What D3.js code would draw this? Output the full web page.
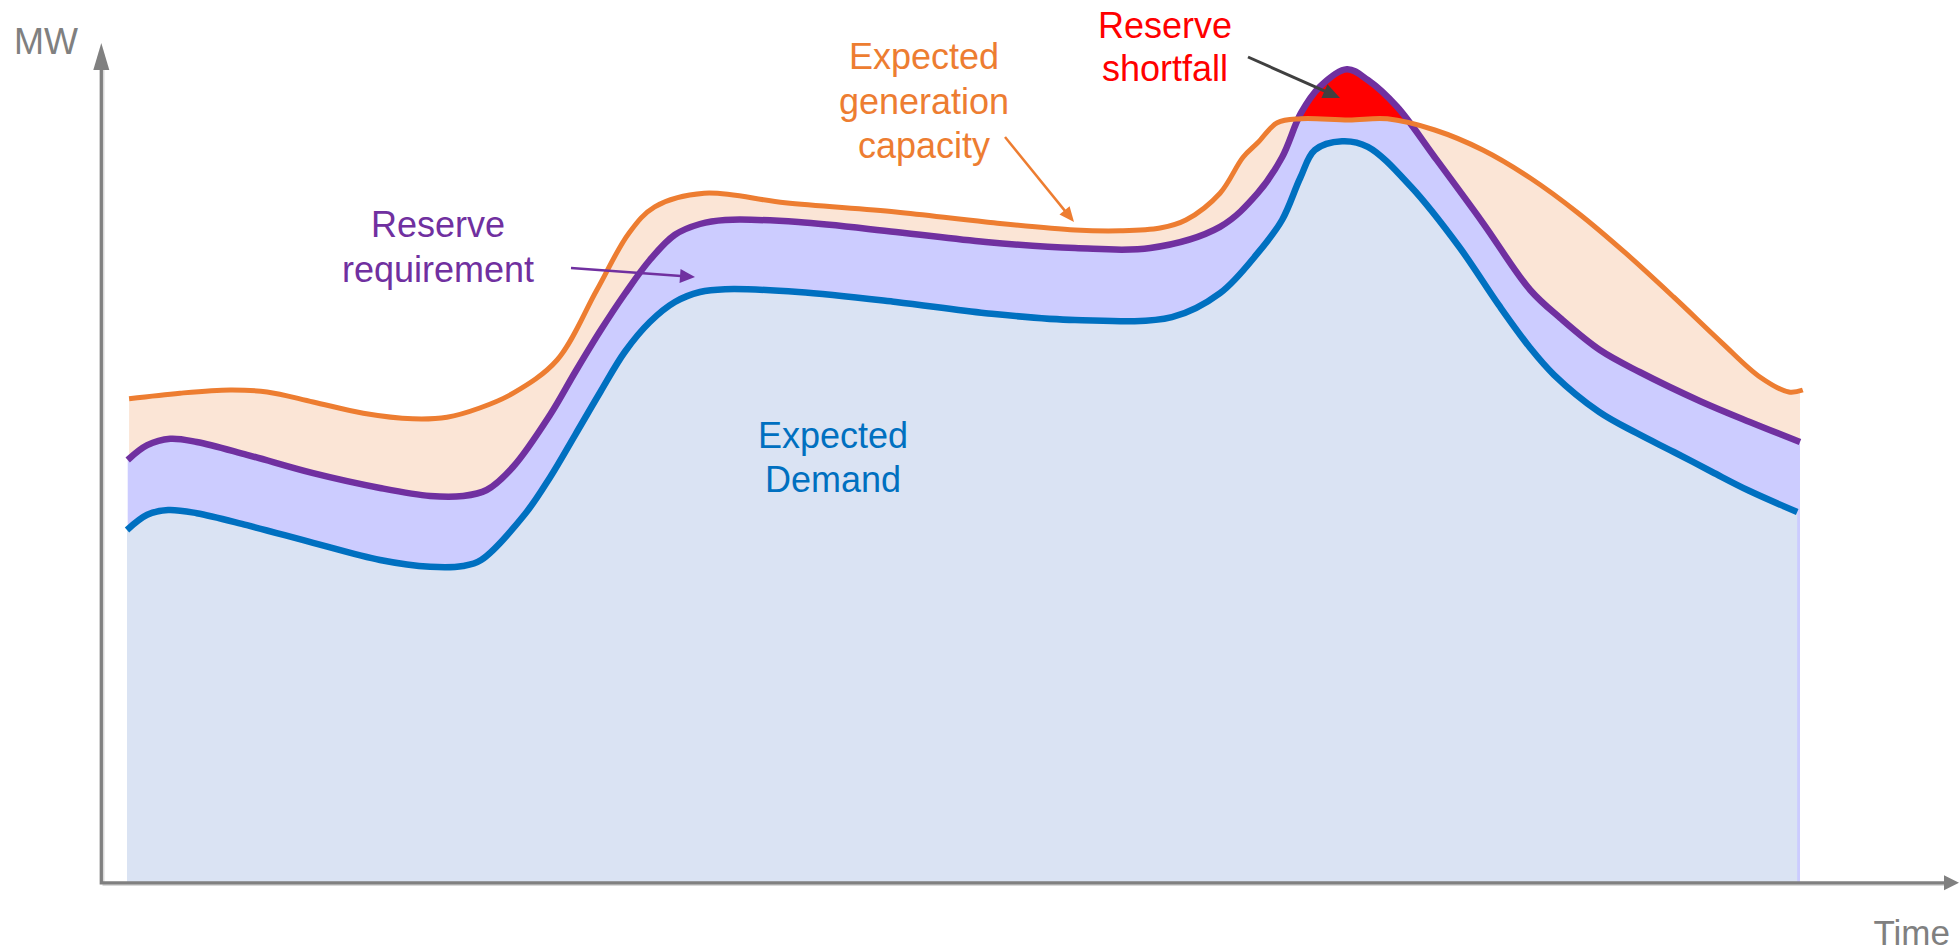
<!DOCTYPE html>
<html>
<head>
<meta charset="utf-8">
<script src="https://cdn.jsdelivr.net/npm/d3@7"></script>
<style>
  html, body { margin: 0; padding: 0; background: #ffffff; }
  svg { display: block; font-family: "Liberation Sans", Arial, sans-serif; }
</style>
</head>
<body>
<svg id="chart" width="1959" height="952"></svg>
<script>
// Hour of day (0–24) and MW (relative units) for each profile
const capacityHours = [0.03, 0.76, 1.48, 2.01, 2.67, 3.39, 4.10, 4.59, 5.06, 5.54, 6.17, 6.74, 7.20, 7.57, 8.28, 9.44,
  11.03, 12.32, 13.60, 14.25, 14.82, 15.19, 15.68, 16.01, 16.22, 16.50, 16.84, 17.53, 18.08, 18.76, 19.45, 20.13,
  20.82, 21.50, 22.19, 22.88, 23.43, 23.84, 24.04];
const capacityMW = [60.4, 61.1, 61.5, 61.25, 60.0, 58.6, 57.9, 58.1, 59.25, 61.1, 65.25, 74.0, 81.1, 84.4, 86.1, 84.9,
  83.75, 82.5, 81.5, 81.4, 81.75, 82.75, 86.1, 90.6, 92.4, 94.9, 95.4, 95.25, 95.4, 94.0, 91.5, 88.0,
  83.6, 78.6, 73.1, 67.4, 63.1, 61.25, 61.5];

const reserveHours = [0.01, 0.29, 0.62, 1.00, 1.72, 2.67, 3.63, 4.35, 4.82, 5.16, 5.54, 6.07, 6.43, 6.79, 7.14, 7.50,
  7.86, 8.22, 8.58, 9.63, 11.03, 12.32, 13.60, 14.68, 15.68, 16.22, 16.57, 16.84, 17.11, 17.50, 17.80, 18.22,
  18.76, 19.45, 20.13, 20.56, 21.13, 21.70, 22.57, 23.28, 24.00];
const reserveMW = [52.75, 54.6, 55.4, 55.0, 53.4, 51.1, 49.25, 48.25, 48.25, 49.0, 51.9, 58.4, 63.75, 68.9, 73.5, 77.75,
  80.9, 82.25, 82.75, 82.5, 81.25, 80.0, 79.25, 79.25, 81.9, 86.1, 90.6, 96.1, 99.4, 101.6, 100.25, 96.9,
  90.6, 82.4, 74.0, 70.5, 66.5, 63.75, 60.1, 57.5, 55.0];

const demandHours = [0.00, 0.29, 0.59, 1.00, 1.72, 2.67, 3.63, 4.35, 4.82, 5.08, 5.71, 6.07, 6.43, 6.79, 7.14, 7.50,
  7.86, 8.22, 8.58, 9.63, 11.03, 12.32, 13.60, 14.99, 15.68, 16.22, 16.57, 16.83, 17.04, 17.43, 17.80, 18.42,
  19.11, 19.68, 20.13, 20.47, 21.12, 21.66, 22.19, 22.74, 23.27, 23.96];
const demandMW = [44.0, 45.9, 46.5, 46.1, 44.6, 42.4, 40.25, 39.4, 39.5, 40.25, 46.0, 50.6, 55.9, 61.25, 66.25, 70.0,
  72.5, 73.75, 74.1, 73.75, 72.5, 71.1, 70.25, 70.6, 73.6, 78.6, 82.75, 88.0, 91.5, 92.6, 91.9, 86.9,
  79.4, 72.1, 66.75, 63.4, 58.75, 56.1, 53.75, 51.25, 48.9, 46.25];

const axisLabels = { y: "MW", x: "Time" };
const capacityLabel = ["Expected", "generation", "capacity"];
const reserveLabel = ["Reserve", "requirement"];
const demandLabel = ["Expected", "Demand"];
const shortfallLabel = ["Reserve", "shortfall"];

const COLORS = {
  capacity: "#ED7D31", capacityFill: "#FBE5D6",
  reserve: "#7030A0", reserveFill: "#CCCCFF",
  demand: "#0070C0", demandFill: "#DAE3F3",
  shortfall: "#FF0000", axis: "#808080", pointer: "#404040"
};

const svg = d3.select("#chart");
const W = 1959, H = 952;

const x = d3.scaleLinear().domain([0, 24]).range([127, 1800]);
const y = d3.scaleLinear().domain([0, 100]).range([882, 82]);

const zip = (a, b) => a.map((v, i) => [v, b[i]]);
const capacity = zip(capacityHours, capacityMW);
const reserve = zip(reserveHours, reserveMW);
const demand = zip(demandHours, demandMW);

const curve = d3.curveCatmullRom.alpha(0.5);
const areaGen = d3.area().x(d => x(d[0])).y0(y(0)).y1(d => y(d[1])).curve(curve);
const lineGen = d3.line().x(d => x(d[0])).y(d => y(d[1])).curve(curve);

const defs = svg.append("defs");
// the capacity curve split the canvas into a region above it and one below it
const capPath = lineGen(capacity);
const capFirst = y(capacity[0][1]), capLast = y(capacity[capacity.length - 1][1]);
const capEdge = `M0,${capFirst} L${capPath.slice(1)} L${W},${capLast}`;
defs.append("clipPath").attr("id", "belowCapacity")
  .append("path").attr("d", `${capEdge} L${W},${H} L0,${H} Z`);
defs.append("clipPath").attr("id", "aboveCapacity")
  .append("path").attr("d", `${capEdge} L${W},0 L0,0 Z`);
// horizontal extent of the reserve band
const rx0 = x(reserveHours[0]), rx1 = x(reserveHours[reserveHours.length - 1]);
defs.append("clipPath").attr("id", "reserveSpan")
  .append("rect").attr("x", rx0).attr("y", 0).attr("width", rx1 - rx0).attr("height", H);

// filled bands: capacity margin, shortfall (reserve above capacity), reserve, demand
svg.append("path").attr("d", areaGen(capacity)).attr("fill", COLORS.capacityFill)
  .attr("clip-path", "url(#reserveSpan)");
svg.append("path").attr("d", areaGen(reserve)).attr("fill", COLORS.shortfall)
  .attr("clip-path", "url(#aboveCapacity)");
svg.append("path").attr("d", areaGen(reserve)).attr("fill", COLORS.reserveFill)
  .attr("clip-path", "url(#belowCapacity)");
svg.append("path").attr("d", areaGen(demand)).attr("fill", COLORS.demandFill);

// axes with a soft shadow
const axisG = svg.append("g");
axisG.append("path").attr("d", "M103.5,62 V885 H1946")
  .attr("fill", "none").attr("stroke", "#d9d9d9").attr("stroke-width", 2);
axisG.append("path").attr("d", "M101.3,68 V882.8 H1946")
  .attr("fill", "none").attr("stroke", COLORS.axis).attr("stroke-width", 3.3);
axisG.append("path").attr("d", "M101.3,43 L109.3,70 L93.3,70 Z").attr("fill", COLORS.axis);
axisG.append("path").attr("d", "M1959,882.8 L1944,875.3 L1944,890.3 Z").attr("fill", COLORS.axis);

svg.append("text").attr("x", 14).attr("y", 54).attr("font-size", 36)
  .attr("fill", COLORS.axis).text(axisLabels.y);
svg.append("text").attr("x", 1950).attr("y", 945).attr("font-size", 35)
  .attr("text-anchor", "end").attr("fill", COLORS.axis).text(axisLabels.x);

// curves
svg.append("path").attr("d", lineGen(demand)).attr("fill", "none")
  .attr("stroke", COLORS.demand).attr("stroke-width", 6.5);
svg.append("path").attr("d", lineGen(reserve)).attr("fill", "none")
  .attr("stroke", COLORS.reserve).attr("stroke-width", 6.5);
svg.append("path").attr("d", capPath).attr("fill", "none")
  .attr("stroke", COLORS.capacity).attr("stroke-width", 5);

// callout text
function label(lines, cx, baseline, step, color) {
  const t = svg.append("text").attr("text-anchor", "middle").attr("font-size", 36).attr("fill", color);
  lines.forEach((s, i) => t.append("tspan").attr("x", cx).attr("y", baseline + i * step).text(s));
}
label(capacityLabel, 924, 69, 44.5, COLORS.capacity);
label(reserveLabel, 438, 237, 45, COLORS.reserve);
label(demandLabel, 833, 448, 43.5, COLORS.demand);
label(shortfallLabel, 1165, 38, 43, COLORS.shortfall);

// pointer arrows
function arrow(x1, y1, x2, y2, color, width, headLen, headW) {
  const dx = x2 - x1, dy = y2 - y1, len = Math.hypot(dx, dy);
  const ux = dx / len, uy = dy / len;
  const bx = x2 - ux * headLen, by = y2 - uy * headLen;
  svg.append("line").attr("x1", x1).attr("y1", y1).attr("x2", bx + ux).attr("y2", by + uy)
    .attr("stroke", color).attr("stroke-width", width);
  const px = -uy * headW / 2, py = ux * headW / 2;
  svg.append("path")
    .attr("d", `M${x2},${y2} L${bx + px},${by + py} L${bx - px},${by - py} Z`)
    .attr("fill", color);
}
arrow(1005, 137, 1074, 222, COLORS.capacity, 2.5, 15, 13);
arrow(571, 268, 695, 277, COLORS.reserve, 2.5, 15, 14);
arrow(1248, 57, 1340, 98, COLORS.pointer, 3, 17, 15);
</script>
</body>
</html>
